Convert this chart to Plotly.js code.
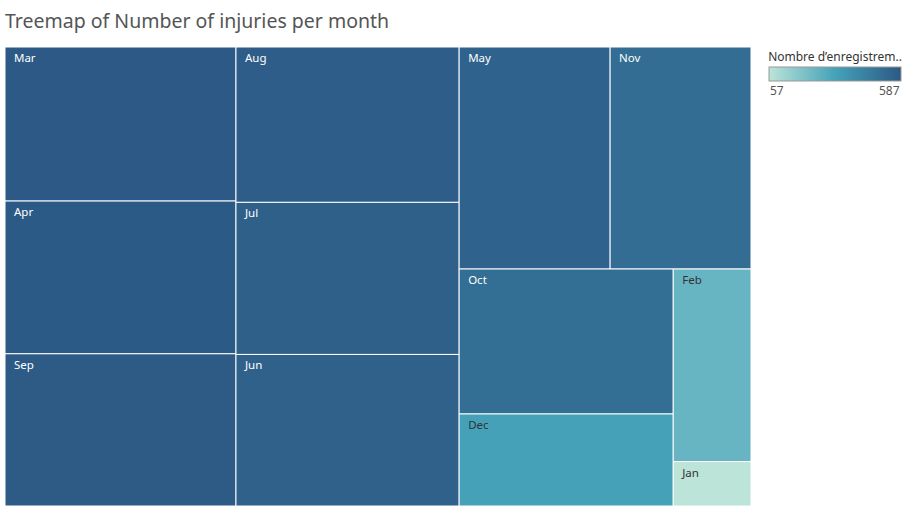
<!DOCTYPE html>
<html>
<head>
<meta charset="utf-8">
<script src="https://cdn.plot.ly/plotly-3.0.1.min.js"></script>
<style>html,body{margin:0;padding:0;background:#fff;}#chart{width:905px;height:510px;}</style>
</head>
<body>
<div id="chart"></div>
<script>
// Data
const months = ["Mar","Apr","Sep","Aug","Jul","Jun","May","Nov","Oct","Dec","Feb","Jan"];
const injuries = [587,582,580,572,560,558,553,516,512,325,247,57];
const labelColors = ["#ffffff","#ffffff","#ffffff","#ffffff","#ffffff","#ffffff","#ffffff","#ffffff","#ffffff","#333333","#333333","#333333"];
const scaleMin = Math.min(...injuries);
const scaleMax = Math.max(...injuries);

// pixel helpers for the plot area (l=5, r=154, t=47, b=4)
const PX = x => (x - 5) / 746;
const PY = y => (506 - y) / 459;

const trace = {
  type: "treemap",
  labels: months,
  parents: months.map(() => ""),
  values: injuries,
  sort: true,
  textinfo: "label",
  texttemplate: "  %{label}",
  textposition: "top left",
  textfont: {family: "Noto Sans, sans-serif", size: 11.5, color: labelColors},
  pathbar: {visible: false},
  root: {color: "#ffffff"},
  tiling: {packing: "squarify", squarifyratio: 1.618, pad: 0},
  marker: {
    colors: injuries,
    colorscale: [[0, "#bce4d8"], [0.5, "#45a2b9"], [1, "#2c5985"]],
    cmin: scaleMin, cmax: scaleMax,
    pad: {t: 0, l: 0, r: 0, b: 0},
    line: {color: "#ffffff", width: 1},
    showscale: true,
    colorbar: {
      orientation: "h",
      x: PX(835), xanchor: "center",
      y: PY(40), yanchor: "top",
      lenmode: "pixels", len: 152,
      thickness: 14,
      outlinecolor: "#999999", outlinewidth: 1,
      showticklabels: false,
      ticks: "",
      title: {text: "Nombre d\u2019enregistrem..", side: "top", font: {family: "Noto Sans, sans-serif", size: 12, color: "#333"}}
    }
  },
  hoverinfo: "label+value"
};

const layout = {
  width: 905, height: 510,
  margin: {l: 5, r: 154, t: 47, b: 4, autoexpand: false},
  paper_bgcolor: "#ffffff",
  title: {
    text: "Treemap of Number of injuries per month",
    x: 5/905, xanchor: "left", xref: "container",
    y: 1 - 21/510, yanchor: "middle", yref: "container",
    font: {family: "Noto Sans, sans-serif", size: 19.5, color: "#555555"}
  },
  annotations: [
    {text: String(scaleMin), xref: "paper", yref: "paper", x: PX(768), y: PY(91), xanchor: "left", yanchor: "middle",
     showarrow: false, font: {family: "Noto Sans, sans-serif", size: 12, color: "#555"}},
    {text: String(scaleMax), xref: "paper", yref: "paper", x: PX(902), y: PY(91), xanchor: "right", yanchor: "middle",
     showarrow: false, font: {family: "Noto Sans, sans-serif", size: 12, color: "#555"}}
  ]
};

Plotly.newPlot("chart", [trace], layout, {displayModeBar: false, staticPlot: true});
</script>
</body>
</html>
